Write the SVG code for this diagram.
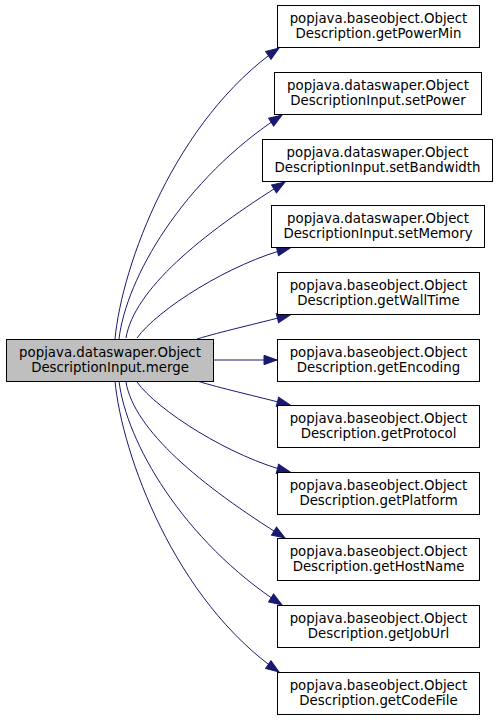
<svg xmlns="http://www.w3.org/2000/svg" width="499" height="720" viewBox="0 0 499 720">
<style>
.n rect{fill:#ffffff;stroke:#000000;stroke-width:1}
.n.main rect{fill:#bfbfbf}
.n text{font-family:"DejaVu Sans",sans-serif;font-size:13.33px;fill:#000000;text-anchor:middle}
.e path{fill:none;stroke:#191970;stroke-width:1;marker-end:url(#ah)}
</style>
<defs>
<marker id="ah" markerUnits="userSpaceOnUse" markerWidth="14" markerHeight="10" refX="13" refY="4.7" orient="auto" overflow="visible">
<path d="M0,0 L13,4.7 L0,9.4 Z" fill="#191970" stroke="#191970" stroke-width="1"/>
</marker>
</defs>
<rect width="499" height="720" fill="#ffffff"/>
<g id="edges" class="e">
<path d="M115,339 C122,265 175,120 279,48"/>
<path d="M119,339 C126,279 182,180 282,115"/>
<path d="M126,338 C134,290 200,235 285,182"/>
<path d="M137,338 C157,310 230,263 290,248"/>
<path d="M197,339 C220,332 255,324 290,315"/>
<path d="M214,360 L277,360"/>
<path d="M197,381 C220,388 255,396 290,405"/>
<path d="M137,382 C157,410 230,457 290,472"/>
<path d="M126,382 C134,430 200,485 285,538"/>
<path d="M119,381 C126,441 182,540 282,605"/>
<path d="M115,381 C122,455 175,600 279,672"/>
</g>
<g id="merge" class="n main"><rect x="6.5" y="339.5" width="207" height="42"/><text x="110" y="357">popjava.dataswaper.Object</text><text x="110" y="372">DescriptionInput.merge</text></g>
<g id="getPowerMin" class="n"><rect x="277.5" y="5.5" width="202" height="42"/><text x="378.5" y="23">popjava.baseobject.Object</text><text x="378.5" y="38">Description.getPowerMin</text></g>
<g id="setPower" class="n"><rect x="274.5" y="72.5" width="207" height="42"/><text x="378" y="90">popjava.dataswaper.Object</text><text x="378" y="105">DescriptionInput.setPower</text></g>
<g id="setBandwidth" class="n"><rect x="262.5" y="139.5" width="230" height="42"/><text x="377.5" y="157">popjava.dataswaper.Object</text><text x="377.5" y="172">DescriptionInput.setBandwidth</text></g>
<g id="setMemory" class="n"><rect x="271.5" y="205.5" width="213" height="42"/><text x="378" y="223">popjava.dataswaper.Object</text><text x="378" y="238">DescriptionInput.setMemory</text></g>
<g id="getWallTime" class="n"><rect x="277.5" y="272.5" width="202" height="42"/><text x="378.5" y="290">popjava.baseobject.Object</text><text x="378.5" y="305">Description.getWallTime</text></g>
<g id="getEncoding" class="n"><rect x="277.5" y="339.5" width="202" height="42"/><text x="378.5" y="357">popjava.baseobject.Object</text><text x="378.5" y="372">Description.getEncoding</text></g>
<g id="getProtocol" class="n"><rect x="277.5" y="405.5" width="202" height="42"/><text x="378.5" y="423">popjava.baseobject.Object</text><text x="378.5" y="438">Description.getProtocol</text></g>
<g id="getPlatform" class="n"><rect x="277.5" y="472.5" width="202" height="42"/><text x="378.5" y="490">popjava.baseobject.Object</text><text x="378.5" y="505">Description.getPlatform</text></g>
<g id="getHostName" class="n"><rect x="277.5" y="538.5" width="202" height="42"/><text x="378.5" y="556">popjava.baseobject.Object</text><text x="378.5" y="571">Description.getHostName</text></g>
<g id="getJobUrl" class="n"><rect x="277.5" y="605.5" width="202" height="42"/><text x="378.5" y="623">popjava.baseobject.Object</text><text x="378.5" y="638">Description.getJobUrl</text></g>
<g id="getCodeFile" class="n"><rect x="277.5" y="672.5" width="202" height="42"/><text x="378.5" y="690">popjava.baseobject.Object</text><text x="378.5" y="705">Description.getCodeFile</text></g>
</svg>
